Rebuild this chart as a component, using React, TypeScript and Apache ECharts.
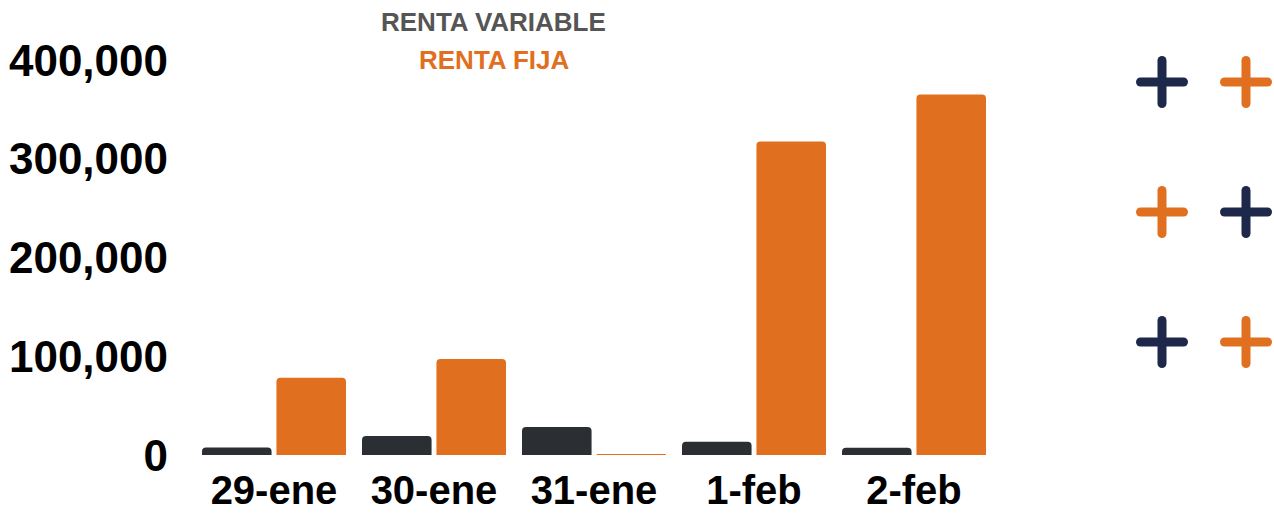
import React, { useEffect, useRef } from "react";
import * as echarts from "echarts";

const categories = ["29-ene", "30-ene", "31-ene", "1-feb", "2-feb"];
const rentaVariable = [7600, 19200, 28400, 13500, 7400];
const rentaFija = [78200, 97200, 1000, 317500, 365000];
const yTicks = [0, 100000, 200000, 300000, 400000];

const DARK = "#2b2f33";
const ORANGE = "#e0701f";
const NAVY = "#1e284a";
const FONT = "'Liberation Sans', Arial, sans-serif";

function plus(cx: number, cy: number, color: string) {
  const h = 21.5;
  const style = { stroke: color, lineWidth: 9, lineCap: "round" as const };
  return [
    { type: "line", shape: { x1: cx - h, y1: cy, x2: cx + h, y2: cy }, style },
    { type: "line", shape: { x1: cx, y1: cy - h, x2: cx, y2: cy + h }, style },
  ];
}

export default function App() {
  const ref = useRef<HTMLDivElement>(null);
  useEffect(() => {
    if (!ref.current) return;
    const chart = echarts.init(ref.current, undefined, { renderer: "svg" });
    chart.setOption({
      animation: false,
      backgroundColor: "#ffffff",
      legend: [
        {
          data: ["RENTA VARIABLE"],
          top: 4,
          left: 371,
          icon: "rect",
          itemWidth: 0,
          itemHeight: 0,
          selectedMode: false,
          textStyle: { color: "#555555", fontSize: 26, fontWeight: "bold", fontFamily: FONT },
        },
        {
          data: ["RENTA FIJA"],
          top: 42,
          left: 409,
          icon: "rect",
          itemWidth: 0,
          itemHeight: 0,
          selectedMode: false,
          textStyle: { color: ORANGE, fontSize: 26, fontWeight: "bold", fontFamily: FONT },
        },
      ],
      grid: { left: 194, right: 280, top: 60, bottom: 58, containLabel: false },
      xAxis: {
        type: "category",
        data: categories,
        axisLine: { show: false },
        axisTick: { show: false },
        axisLabel: {
          interval: 0,
          color: "#000",
          fontSize: 40,
          lineHeight: 34,
          fontWeight: "bold",
          fontFamily: FONT,
          margin: 18,
        },
      },
      yAxis: {
        type: "value",
        min: 0,
        max: 400000,
        interval: 100000,
        axisLine: { show: false },
        axisTick: { show: false },
        splitLine: { show: false },
        axisLabel: {
          color: "#000",
          fontSize: 44,
          fontWeight: "bold",
          fontFamily: FONT,
          margin: 26,
          formatter: (v: number) => (yTicks.includes(v) ? v.toLocaleString("en-US") : ""),
        },
      },
      series: [
        {
          name: "RENTA VARIABLE",
          type: "bar",
          data: rentaVariable,
          barCategoryGap: "10%",
          barGap: "7%",
          itemStyle: { color: DARK, borderRadius: [4, 4, 0, 0] },
        },
        {
          name: "RENTA FIJA",
          type: "bar",
          data: rentaFija,
          itemStyle: { color: ORANGE, borderRadius: [4, 4, 0, 0] },
        },
      ],
      graphic: [
        ...plus(1162, 82, NAVY),
        ...plus(1246, 82, ORANGE),
        ...plus(1162, 212, ORANGE),
        ...plus(1246, 212, NAVY),
        ...plus(1162, 342, NAVY),
        ...plus(1246, 342, ORANGE),
      ],
    });
    return () => chart.dispose();
  }, []);
  return <div ref={ref} style={{ width: 1274, height: 513, position: "absolute", left: 0, top: 0 }} />;
}
